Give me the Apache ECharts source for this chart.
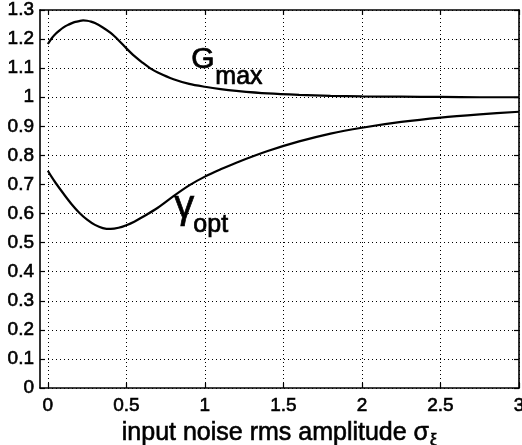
<!DOCTYPE html>
<html><head><meta charset="utf-8">
<script src="https://cdn.jsdelivr.net/npm/echarts@6/dist/echarts.min.js"></script>
<style>html,body{margin:0;padding:0;background:#fff}#c{width:522px;height:445px}#e{position:absolute;left:60px;top:280px;font:10px monospace;color:red;width:450px}</style>
</head><body><div id="c"></div><div id="e"></div>
<script>
window.onerror = function (m) { document.getElementById('e').textContent += m + ' | '; };
const xTicks = [0, 0.5, 1, 1.5, 2, 2.5, 3];
const gX = [0, 0.025, 0.05, 0.075, 0.1, 0.125, 0.15, 0.175, 0.2, 0.225, 0.25, 0.275, 0.3, 0.35, 0.4, 0.45, 0.5, 0.55, 0.6, 0.65, 0.7, 0.8, 0.9, 1.0, 1.1, 1.2, 1.4, 1.6, 1.8, 2.0, 2.25, 2.5, 2.75, 3.0];
const gMax = [1.183, 1.203, 1.218, 1.23, 1.24, 1.248, 1.254, 1.259, 1.262, 1.264, 1.263, 1.26, 1.255, 1.24, 1.221, 1.196, 1.168, 1.142, 1.12, 1.1, 1.085, 1.062, 1.046, 1.036, 1.028, 1.022, 1.013, 1.008, 1.005, 1.003, 1.002, 1.001, 1.0, 1.0];
const oX = [0, 0.025, 0.05, 0.1, 0.15, 0.2, 0.25, 0.3, 0.35, 0.4, 0.45, 0.5, 0.55, 0.6, 0.7, 0.8, 0.9, 1.0, 1.1, 1.2, 1.4, 1.6, 1.8, 2.0, 2.25, 2.5, 2.75, 3.0];
const gOpt = [0.747, 0.725, 0.705, 0.668, 0.633, 0.603, 0.579, 0.561, 0.55, 0.547, 0.551, 0.56, 0.572, 0.587, 0.62, 0.66, 0.697, 0.727, 0.752, 0.775, 0.815, 0.848, 0.875, 0.895, 0.915, 0.93, 0.941, 0.95];

const font = '"Liberation Sans", Arial, sans-serif';
const chart = echarts.init(document.getElementById('c'), null, {renderer: 'canvas'});
const gridLine = () => ({show: true, lineStyle: {color: '#000', type: [1, 3], width: 1}});
const axLine = () => ({show: true, onZero: false, lineStyle: {color: '#000', width: 1.6}});
const tick = () => ({show: true, inside: true, length: 5, lineStyle: {color: '#000', width: 1.2}});
const stroke = {textBorderColor: '#000', textBorderWidth: 0.6};
const gtext = (text, left, top, size) => ({type: 'text', left, top,
  style: {text, font: size + 'px ' + font, fill: '#000', stroke: '#000', lineWidth: 0.7}});
try {
chart.setOption({
  animation: false,
  backgroundColor: '#fff',
  grid: {left: 40, top: 10, right: 3, bottom: 57, containLabel: false, outerBoundsMode: 'none'},
  xAxis: [{
    type: 'value', min: -0.05, max: 3, position: 'bottom',
    axisLine: axLine(),
    axisTick: Object.assign(tick(), {customValues: xTicks}),
    axisLabel: Object.assign({customValues: xTicks, color: '#000', fontFamily: font, fontSize: 19, margin: 8}, stroke),
    splitLine: gridLine(),
    name: '{s|input noise rms amplitude σ}{sub|ξ}',
    nameLocation: 'middle', nameGap: 16,
    nameTextStyle: {color: '#000', fontFamily: font, fontSize: 25, verticalAlign: 'top',
      rich: {
        s: Object.assign({fontFamily: font, fontSize: 25, color: '#000', lineHeight: 28, verticalAlign: 'top'}, stroke),
        sub: Object.assign({fontFamily: font, fontSize: 16, color: '#000', lineHeight: 28, verticalAlign: 'bottom', padding: [0, 0, 0, 1]}, stroke)
      }}
  }, {
    type: 'value', min: -0.05, max: 3, position: 'top',
    axisLine: axLine(),
    axisTick: Object.assign(tick(), {customValues: xTicks}),
    axisLabel: {show: false, customValues: xTicks},
    splitLine: {show: false}
  }],
  yAxis: [{
    type: 'value', min: 0, max: 1.3, interval: 0.1, position: 'left',
    axisLine: axLine(),
    axisTick: tick(),
    axisLabel: Object.assign({color: '#000', fontFamily: font, fontSize: 19, margin: 6}, stroke),
    splitLine: gridLine()
  }, {
    type: 'value', min: 0, max: 1.3, interval: 0.1, position: 'right',
    axisLine: axLine(),
    axisTick: tick(),
    axisLabel: {show: false},
    splitLine: {show: false}
  }],
  series: [{
    type: 'line', name: 'Gmax', showSymbol: false, smooth: 0.3,
    data: gX.map((x, i) => [x, gMax[i]]),
    lineStyle: {color: '#000', width: 2.2}
  }, {
    type: 'line', name: 'gamma_opt', showSymbol: false, smooth: 0.3,
    data: oX.map((x, i) => [x, gOpt[i]]),
    lineStyle: {color: '#000', width: 2.2}
  }],
  graphic: [
    gtext('G', 191, 44, 30),
    gtext('max', 215, 64, 25),
    gtext('γ', 174, 187, 40),
    gtext('opt', 193, 212, 25)
  ]
});
} catch (e) { document.getElementById('e').textContent += 'ERR ' + e.message + ' ' + (e.stack || '').slice(0, 300); }
</script></body></html>
